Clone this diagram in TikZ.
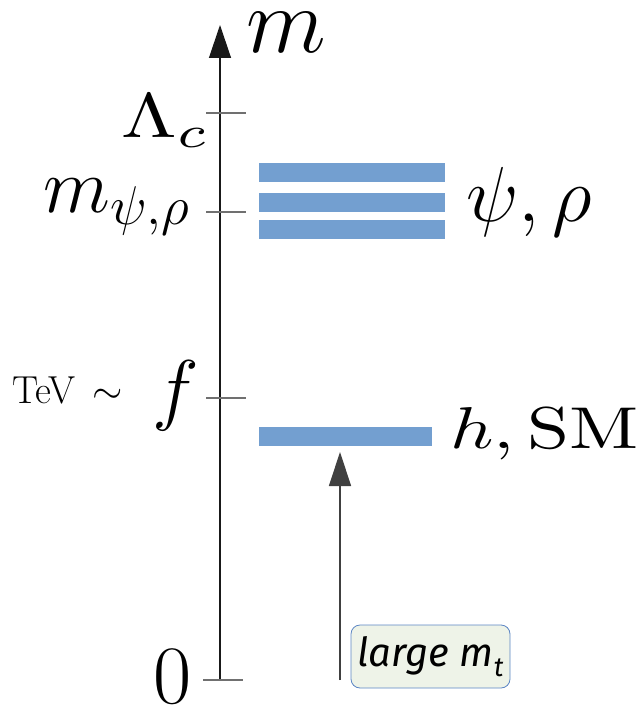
\RequirePackage{fix-cm}
\documentclass[tikz,border=0pt]{standalone}
\usepackage{graphicx}
\usepackage{fontspec}
\newfontfamily\hand{Fira Sans}
\usetikzlibrary{arrows.meta}
\definecolor{barblue}{HTML}{739FD0}
\definecolor{boxfill}{HTML}{EEF3E8}
\definecolor{boxdraw}{HTML}{5B85C4}
\definecolor{tickgray}{HTML}{707070}
\newcommand{\fsz}[1]{\fontsize{#1}{#1}\selectfont}
\begin{document}
\begin{tikzpicture}[x=1pt,y=-1pt,
  axisline/.style={line width=1.3pt, draw=black!90, -{Triangle[length=33pt,width=22pt]}},
  tickline/.style={line width=1.3pt, draw=tickgray},
  levelbar/.style={fill=barblue, draw=none, inner sep=0, minimum height=19pt},
  upline/.style={line width=1.3pt, draw=black!75, -{Triangle[length=34pt,width=22pt]}},
  notebox/.style={draw=boxdraw, fill=boxfill, line width=0.8pt, rounded corners=9pt,
    minimum width=159pt, minimum height=63pt, inner sep=0},
  lbl/.style={inner sep=0, text=black}]
\useasboundingbox (0,0) rectangle (643,708);
% axis
\coordinate (ax0) at (220,680);
\coordinate (axtop) at (220,25);
\draw[axisline] (ax0) -- (axtop);
% ticks
\coordinate (tL1) at (206,113); \coordinate (tR1) at (246,113);
\coordinate (tL2) at (206,212); \coordinate (tR2) at (246,212);
\coordinate (tL3) at (206,398); \coordinate (tR3) at (246,398);
\coordinate (tL4) at (203,680); \coordinate (tR4) at (243,680);
\draw[tickline] (tL1) -- (tR1);
\draw[tickline] (tL2) -- (tR2);
\draw[tickline] (tL3) -- (tR3);
\draw[tickline] (tL4) -- (tR4);
% bars
\node[levelbar, minimum width=186pt] (bar1) at (352,172.5) {};
\node[levelbar, minimum width=186pt] (bar2) at (352,203) {};
\node[levelbar, minimum width=186pt] (bar3) at (352,230) {};
\node[levelbar, minimum width=173pt] (hbar) at (345.5,436) {};
% labels
\node[lbl, anchor=base west, font=\fsz{93}] (mlab) at (246,53) {$m$};
\node[lbl, anchor=base east, font=\fsz{10}] (Lab) at (210,138) {\scalebox{8.0}[6.3]{$\Lambda_c$}};
\node[lbl, anchor=base east, font=\fsz{78}] (mpsi) at (190,213) {$m_{\psi,\rho}$};
\node[lbl, anchor=base west, font=\fsz{78}] (psirho) at (466,222) {$\psi,\rho$};
\node[lbl, anchor=base west, font=\fsz{39}] (tev) at (12,403) {TeV\hspace{6pt} $\sim$};
\node[lbl, anchor=base west, font=\fsz{79}] (flab) at (152,415) {$f$};
\node[lbl, anchor=base west, font=\fsz{10}] (hsm) at (450,448) {\scalebox{7.55}[5.9]{$h,\mathrm{SM}$}};
\node[lbl, anchor=base west, font=\fsz{83}] (zero) at (153,703) {$0$};
% arrow and box
\coordinate (upbase) at (340,680);
\coordinate (uptip) at (340,452);
\draw[upline] (upbase) -- (uptip);
\node[notebox] (lmt) at (430.5,656.5) {\hand\itshape\fsz{40}large m\raisebox{-10pt}{\fsz{27}t}};
\end{tikzpicture}
\end{document}
